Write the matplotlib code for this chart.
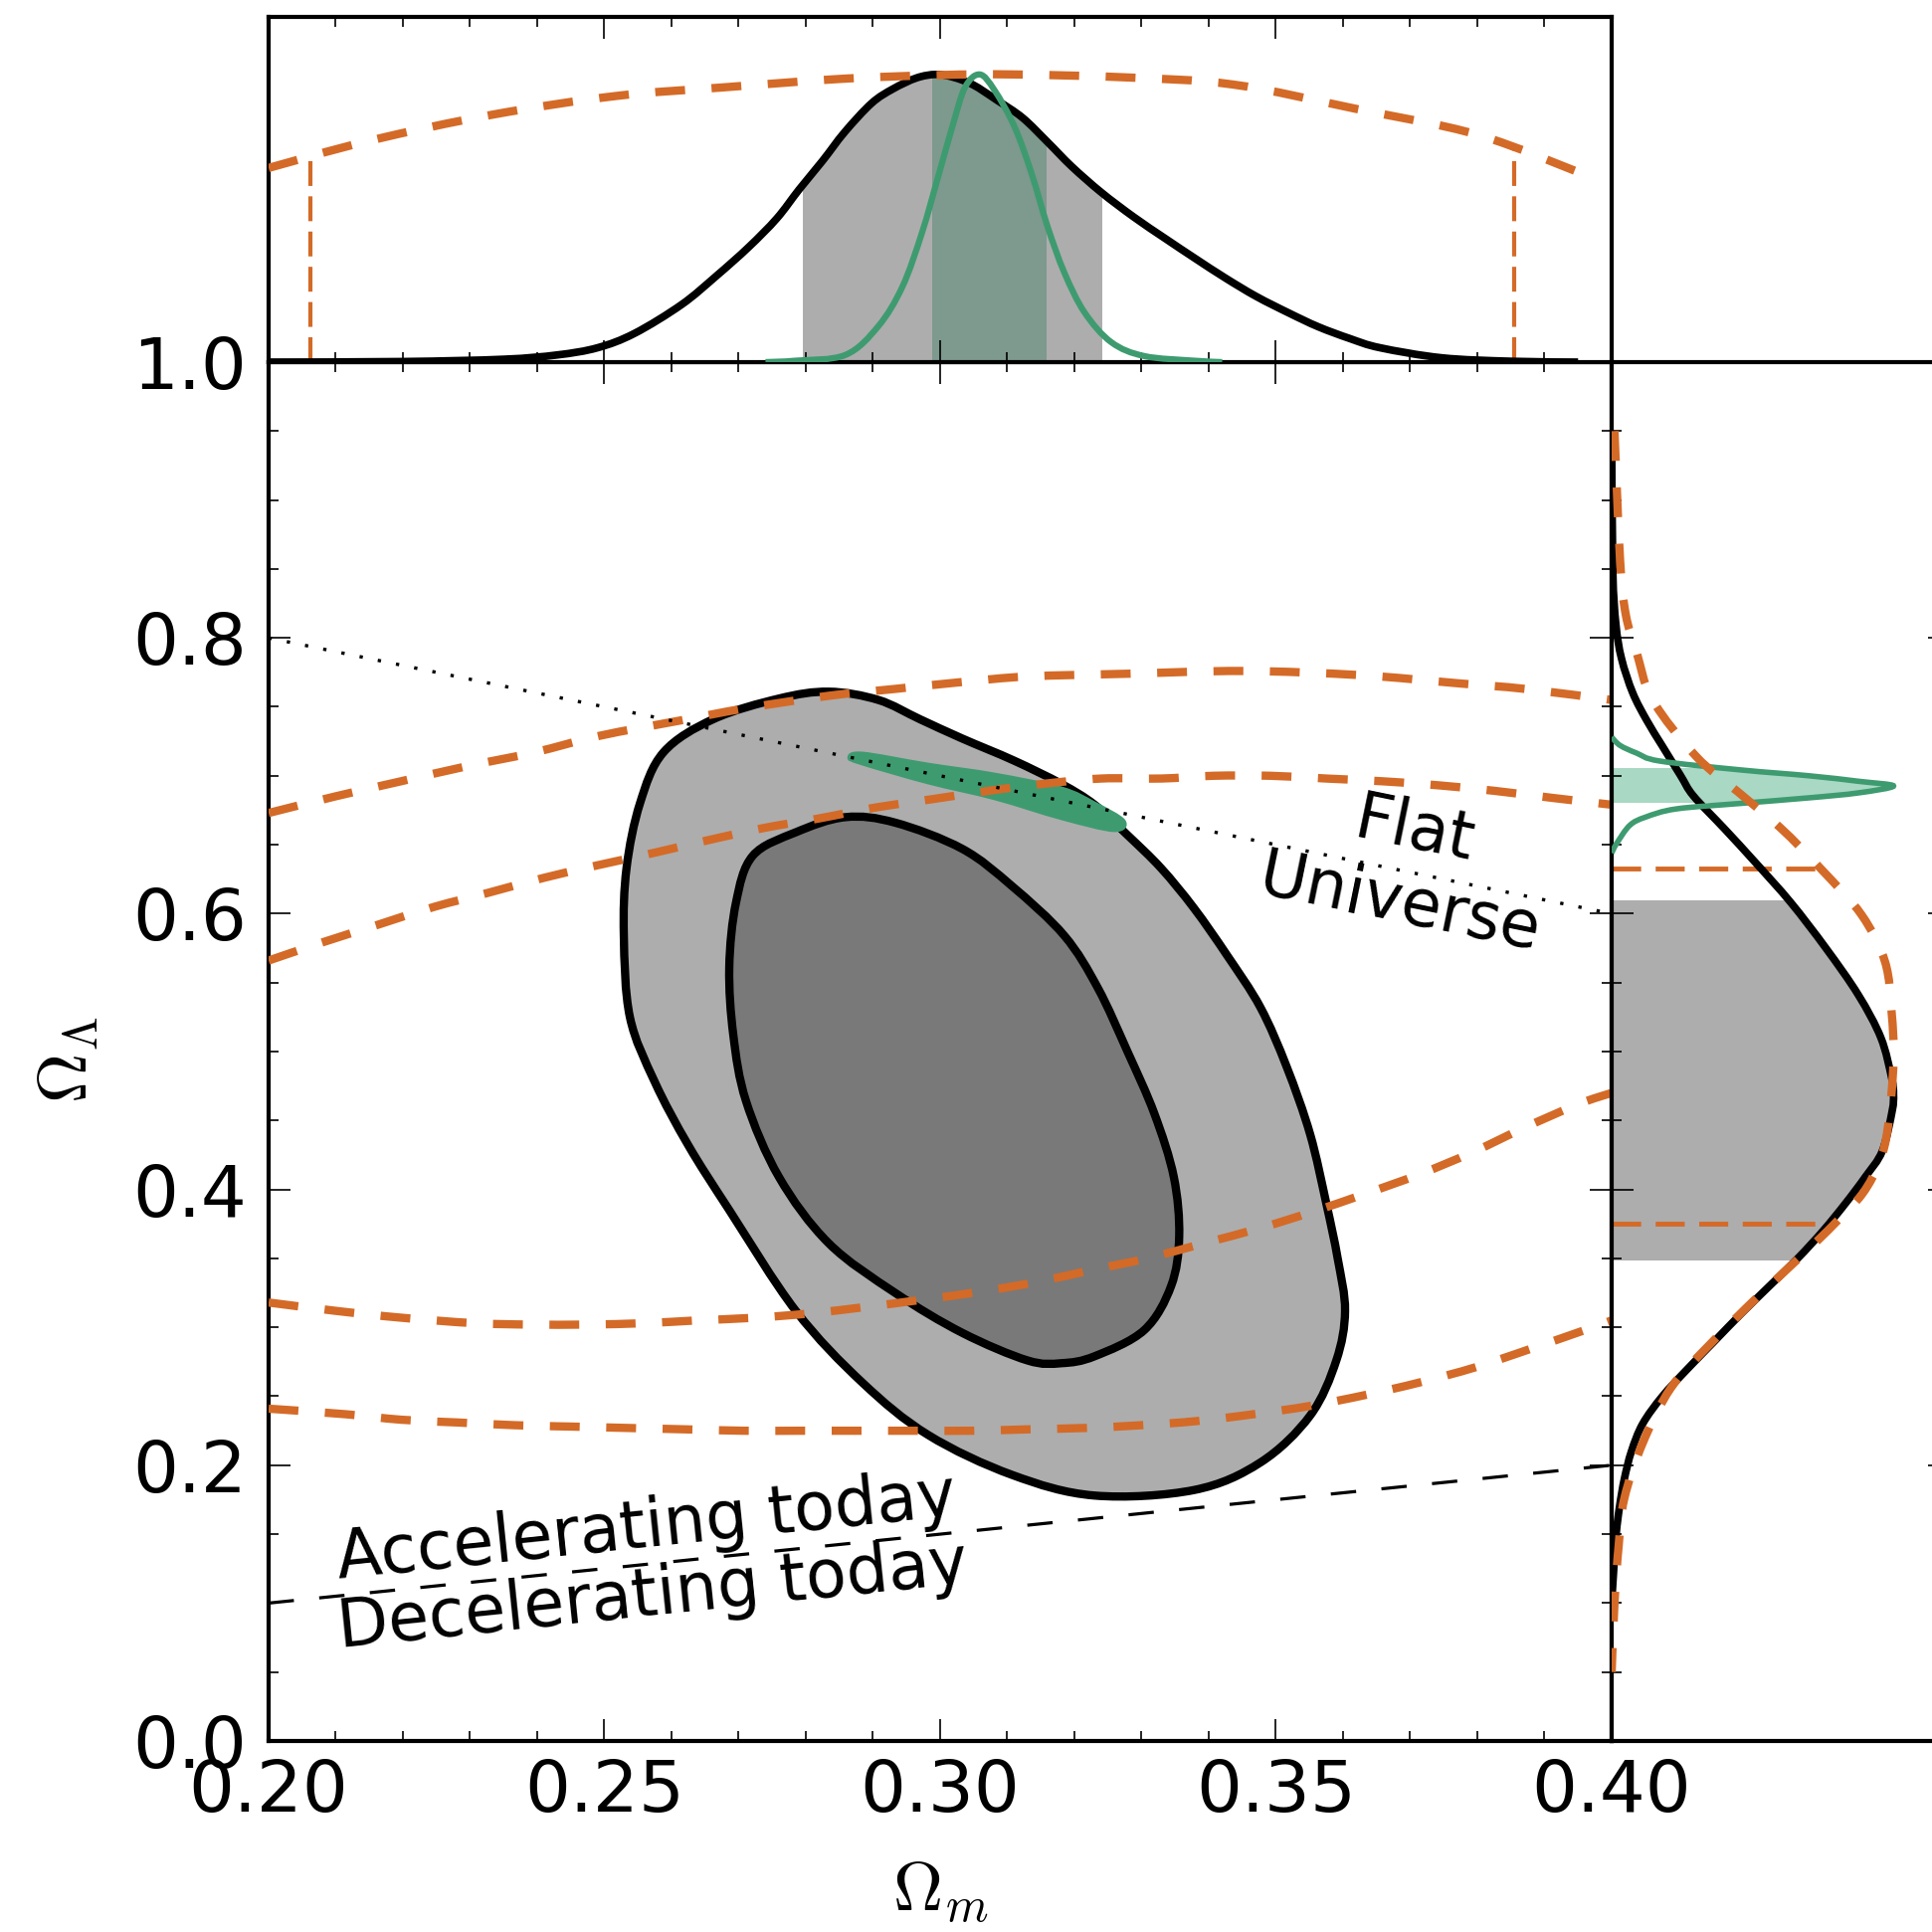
import numpy as np
import matplotlib
matplotlib.use('Agg')
from matplotlib import pyplot as plt
from matplotlib.patches import PathPatch
from matplotlib.path import Path
from matplotlib.ticker import MultipleLocator

plt.rcParams['mathtext.fontset'] = 'cm'

# 2D contours (Omega_m, Omega_Lambda)
outer_om = [0.2834, 0.2908, 0.2970, 0.3033, 0.3110, 0.3181, 0.3230, 0.3279, 0.3329, 0.3378, 0.3427, 0.3477,
            0.3516, 0.3551, 0.3575, 0.3592, 0.3603, 0.3590, 0.3551, 0.3477, 0.3378, 0.3230, 0.3107,
            0.2982, 0.2884, 0.2785, 0.2686, 0.2625, 0.2575, 0.2538, 0.2529, 0.2533, 0.2553, 0.2588, 0.2662, 0.2760]
outer_ol = [0.761, 0.755, 0.741, 0.727, 0.711, 0.694, 0.679, 0.657, 0.633, 0.604, 0.570, 0.532,
            0.489, 0.440, 0.390, 0.350, 0.312, 0.276, 0.236, 0.202, 0.182, 0.178, 0.193,
            0.222, 0.260, 0.312, 0.385, 0.432, 0.478, 0.525, 0.584, 0.633, 0.680, 0.717, 0.741, 0.756]

inner_om = [0.2859, 0.2933, 0.3033, 0.3107, 0.3185, 0.3235, 0.3279, 0.3319, 0.3348, 0.3356, 0.3344, 0.3304,
            0.3230, 0.3181, 0.3130, 0.3033, 0.2933, 0.2834, 0.2760, 0.2711, 0.2692, 0.2686, 0.2696, 0.2721, 0.2785]
inner_ol = [0.670, 0.666, 0.647, 0.620, 0.584, 0.546, 0.500, 0.455, 0.409, 0.366, 0.330, 0.298,
            0.279, 0.274, 0.276, 0.296, 0.325, 0.361, 0.409, 0.464, 0.512, 0.561, 0.608, 0.642, 0.659]

green_om = [0.2864, 0.2884, 0.2982, 0.3081, 0.3181, 0.3230, 0.3274, 0.3259, 0.3181, 0.3081, 0.2982, 0.2884]
green_ol = [0.713, 0.7165, 0.7085, 0.7013, 0.6912, 0.6804, 0.6674, 0.6602, 0.6688, 0.6833, 0.6948, 0.7085]

# orange dashed contours, open curves that cross the frame
orA_om = [0.200, 0.2099, 0.2197, 0.2296, 0.2396, 0.2493, 0.2612, 0.2711, 0.2834, 0.2933, 0.3033, 0.3130,
          0.3279, 0.3452, 0.3625, 0.3773, 0.3871, 0.400]
orA_ol = [0.673, 0.685, 0.696, 0.707, 0.717, 0.729, 0.740, 0.749, 0.758, 0.763, 0.768, 0.772,
          0.774, 0.776, 0.773, 0.767, 0.763, 0.755]
orB_om = [0.200, 0.2079, 0.2163, 0.2247, 0.2326, 0.2410, 0.2489, 0.2573, 0.2652, 0.2736, 0.2819, 0.2904,
          0.2988, 0.3071, 0.3151, 0.3240, 0.3329, 0.3407, 0.3492, 0.3575, 0.3659, 0.3744, 0.3827, 0.3911, 0.400]
orB_ol = [0.566, 0.579, 0.592, 0.605, 0.615, 0.626, 0.635, 0.644, 0.653, 0.662, 0.669, 0.677,
          0.683, 0.689, 0.694, 0.698, 0.698, 0.700, 0.700, 0.698, 0.696, 0.693, 0.689, 0.684, 0.679]
orC_om = [0.200, 0.2099, 0.2197, 0.2307, 0.2390, 0.2474, 0.2559, 0.2637, 0.2726, 0.2804, 0.2893, 0.2973,
          0.3062, 0.3145, 0.3230, 0.3308, 0.3393, 0.3477, 0.3556, 0.3634, 0.3714, 0.3793, 0.3871, 0.3951, 0.400]
orC_ol = [0.318, 0.312, 0.307, 0.303, 0.302, 0.302, 0.303, 0.305, 0.307, 0.310, 0.315, 0.320,
          0.326, 0.333, 0.342, 0.350, 0.361, 0.372, 0.384, 0.397, 0.411, 0.427, 0.445, 0.462, 0.470]
orD_om = [0.200, 0.2114, 0.2197, 0.2281, 0.2367, 0.2452, 0.2536, 0.2622, 0.2707, 0.2790, 0.2874, 0.2959,
          0.3047, 0.3130, 0.3215, 0.3299, 0.3382, 0.3467, 0.3551, 0.3634, 0.3714, 0.3797, 0.3877, 0.3960, 0.400]
orD_ol = [0.241, 0.237, 0.233, 0.231, 0.229, 0.228, 0.227, 0.226, 0.225, 0.225, 0.225, 0.225,
          0.225, 0.226, 0.227, 0.229, 0.232, 0.237, 0.243, 0.251, 0.260, 0.271, 0.284, 0.298, 0.305]

# reference lines
flat_om = [0.2, 0.4]
flat_ol = [0.8, 0.6]
accel_om = [0.2, 0.4]
accel_ol = [0.1, 0.2]

# 1D marginals of Omega_m (peak = 1)
top_black_om = [0.200, 0.220, 0.235, 0.243, 0.249, 0.2545, 0.2615, 0.2667, 0.2715, 0.2757, 0.2790, 0.2825,
                0.2858, 0.2898, 0.2930, 0.2965, 0.2994, 0.3020, 0.3049, 0.3085, 0.3123, 0.3160, 0.3196, 0.3240,
                0.3288, 0.3335, 0.3380, 0.3425, 0.3471, 0.3520, 0.3563, 0.3610, 0.3655, 0.3747, 0.385, 0.395]
top_black_p = [0.0, 0.002, 0.01, 0.025, 0.05, 0.10, 0.20, 0.30, 0.40, 0.50, 0.60, 0.70,
               0.80, 0.90, 0.95, 0.988, 1.0, 0.99, 0.964, 0.91, 0.849, 0.765, 0.68, 0.59,
               0.505, 0.43, 0.36, 0.292, 0.228, 0.17, 0.123, 0.082, 0.05, 0.015, 0.003, 0.0]
top_green_om = [0.274, 0.2785, 0.2859, 0.2908, 0.2944, 0.2973, 0.2997, 0.3018, 0.3037, 0.3059, 0.3081, 0.3111,
                0.3136, 0.3160, 0.3185, 0.3215, 0.3255, 0.3304, 0.3378, 0.342]
top_green_p = [0.0, 0.005, 0.025, 0.125, 0.263, 0.45, 0.644, 0.817, 0.955, 1.0, 0.945, 0.817,
               0.657, 0.471, 0.311, 0.173, 0.069, 0.021, 0.005, 0.0]
top_orange_om = [0.200, 0.2151, 0.2333, 0.2517, 0.2677, 0.2855, 0.300, 0.3107, 0.3274, 0.3436, 0.3620, 0.3801, 0.3967]
top_orange_p = [0.675, 0.77, 0.86, 0.925, 0.955, 0.985, 0.998, 1.0, 0.99, 0.965, 0.88, 0.79, 0.645]

# 1D marginals of Omega_Lambda (peak = 1)
right_black_ol = [0.95, 0.85, 0.81, 0.785, 0.76, 0.74, 0.7215, 0.70, 0.6854, 0.6616, 0.6371, 0.6082, 0.575,
                  0.5411, 0.5101, 0.4812, 0.469, 0.4567, 0.4278, 0.4091, 0.39, 0.37, 0.35, 0.33, 0.31, 0.29,
                  0.27, 0.25, 0.23, 0.21, 0.19, 0.17, 0.15, 0.12, 0.10]
right_black_p = [0.0, 0.004, 0.015, 0.035, 0.075, 0.125, 0.18, 0.245, 0.29, 0.40, 0.51, 0.635, 0.76,
                 0.875, 0.955, 0.993, 1.0, 0.995, 0.96, 0.90, 0.83, 0.75, 0.66, 0.56, 0.46, 0.365,
                 0.27, 0.18, 0.11, 0.07, 0.045, 0.028, 0.016, 0.006, 0.0]
right_green_ol = [0.728, 0.722, 0.7165, 0.7107, 0.7042, 0.700, 0.696, 0.6926, 0.6876, 0.684, 0.680, 0.676,
                  0.670, 0.664, 0.651, 0.644]
right_green_p = [0.0, 0.03, 0.088, 0.17, 0.46, 0.70, 0.876, 1.0, 0.876, 0.70, 0.46, 0.23,
                 0.12, 0.064, 0.018, 0.0]
right_orange_ol = [0.95, 0.856, 0.817, 0.79, 0.755, 0.714, 0.688, 0.662, 0.633, 0.599, 0.565, 0.529, 0.493,
                   0.445, 0.42, 0.397, 0.375, 0.356, 0.3225, 0.289, 0.256, 0.216, 0.176, 0.142, 0.10, 0.05]
right_orange_p = [0.01, 0.03, 0.05, 0.088, 0.145, 0.30, 0.45, 0.60, 0.74, 0.887, 0.97, 0.993, 1.0,
                  0.98, 0.95, 0.89, 0.79, 0.695, 0.52, 0.355, 0.21, 0.11, 0.045, 0.025, 0.01, 0.0]

# credible intervals
black_om_band = [0.2796, 0.3241]
green_om_band = [0.2988, 0.3159]
orange_om_lines = [0.2062, 0.3855]
black_ol_band = [0.3485, 0.6097]
green_ol_band = [0.6804, 0.7056]
orange_ol_lines = [0.375, 0.633]

om_ticks = [0.20, 0.25, 0.30, 0.35, 0.40]
ol_ticks = [0.0, 0.2, 0.4, 0.6, 0.8, 1.0]

orange = '#d46a27'
green = '#3e9b70'
light_gray = '#adadad'
dark_gray = '#797979'
dash = (0, (3.6, 3.2))


def smooth(xs, ys, closed=False):
    # Catmull-Rom curve through the read points, as bezier path vertices
    pts = np.column_stack([xs, ys])
    n = len(pts)
    if closed:
        ext = np.vstack([pts[-1], pts, pts[0], pts[1]])
    else:
        ext = np.vstack([pts[0], pts, pts[-1]])
    verts = [pts[0]]
    codes = [Path.MOVETO]
    for i in range(n if closed else n - 1):
        p0, p1, p2, p3 = ext[i], ext[i + 1], ext[i + 2], ext[i + 3]
        verts += [p1 + (p2 - p0) / 6, p2 - (p3 - p1) / 6, p2]
        codes += [Path.CURVE4] * 3
    if closed:
        verts.append(pts[0])
        codes.append(Path.CLOSEPOLY)
    return verts, codes


def curve_patch(xs, ys, closed=False, **kw):
    v, c = smooth(xs, ys, closed)
    return PathPatch(Path(v, c), **kw)


def area_path(xs, ys, base_pts):
    # region between a curve and the axis it sits on
    v, c = smooth(xs, ys)
    v = v + base_pts + [base_pts[-1]]
    c = c + [Path.LINETO] * len(base_pts) + [Path.CLOSEPOLY]
    return Path(v, c)


fig = plt.figure(figsize=(19.42, 19.42), dpi=100)
ax = fig.add_axes([0.13903, 0.09887, 0.69516, 0.71370])
ax_top = fig.add_axes([0.13903, 0.81257, 0.69516, 0.17868])
ax_right = fig.add_axes([0.83419, 0.09887, 0.17508, 0.71370])

# main panel
ax.add_patch(curve_patch(outer_om, outer_ol, True, facecolor=light_gray, edgecolor='black', lw=6, zorder=2))
ax.add_patch(curve_patch(inner_om, inner_ol, True, facecolor=dark_gray, edgecolor='black', lw=6, zorder=2))
ax.add_patch(curve_patch(green_om, green_ol, True, facecolor=green, edgecolor=green, lw=2, zorder=3))
for om, ol in [(orA_om, orA_ol), (orB_om, orB_ol), (orC_om, orC_ol), (orD_om, orD_ol)]:
    ax.add_patch(curve_patch(om, ol, fill=False, edgecolor=orange, lw=6, linestyle=dash, zorder=4))
ax.plot(flat_om, flat_ol, color='black', lw=2.4, linestyle=(0, (1, 4.6)), zorder=5)
ax.plot(accel_om, accel_ol, color='black', lw=2.3, linestyle=(0, (8, 8)), zorder=5)

ax.text(0.3695, 0.633, 'Flat\nUniverse', fontsize=47, rotation=-11.6, rotation_mode='anchor',
        ha='center', va='center', multialignment='center', linespacing=1.22, zorder=6)
ax.text(0.2563, 0.1544, 'Accelerating today', fontsize=48, rotation=5.9, rotation_mode='anchor',
        ha='center', va='center', zorder=6)
ax.text(0.2572, 0.1053, 'Decelerating today', fontsize=48, rotation=5.9, rotation_mode='anchor',
        ha='center', va='center', zorder=6)

ax.set_xlim(0.2, 0.4)
ax.set_ylim(0.0, 1.0)
ax.set_xticks(om_ticks)
ax.set_xticklabels(['%.2f' % t for t in om_ticks])
ax.set_yticks(ol_ticks)
ax.set_yticklabels(['%.1f' % t for t in ol_ticks])
ax.xaxis.set_minor_locator(MultipleLocator(0.01))
ax.yaxis.set_minor_locator(MultipleLocator(0.05))
ax.tick_params(which='both', direction='in', top=True, right=True, width=1.2)
ax.tick_params(which='major', length=16, labelsize=52)
ax.tick_params(which='minor', length=7)
ax.tick_params(axis='x', pad=12)
ax.tick_params(axis='y', pad=16)
ax.set_xlabel(r'$\Omega_m$', fontsize=50)
ax.xaxis.set_label_coords(0.5, -0.086)
ax.set_ylabel(r'$\Omega_\Lambda$', fontsize=50)
ax.yaxis.set_label_coords(-0.125, 0.494)

# top panel: Omega_m marginals
black_top = area_path(top_black_om, top_black_p, [(top_black_om[-1], 0), (top_black_om[0], 0)])
span = ax_top.axvspan(black_om_band[0], black_om_band[1], color=light_gray, lw=0, zorder=1)
span.set_clip_path(black_top, ax_top.transData)
span = ax_top.axvspan(green_om_band[0], green_om_band[1], color='#7e998e', lw=0, zorder=1.5)
span.set_clip_path(black_top, ax_top.transData)
orange_top = area_path(top_orange_om, top_orange_p, [(top_orange_om[-1], 0), (top_orange_om[0], 0)])
for x in orange_om_lines:
    ln = ax_top.axvline(x, color=orange, lw=3, linestyle=(0, (6, 2.5)), zorder=2)
    ln.set_clip_path(orange_top, ax_top.transData)
ax_top.add_patch(curve_patch(top_black_om, top_black_p, fill=False, edgecolor='black', lw=5.5, zorder=3))
ax_top.add_patch(curve_patch(top_green_om, top_green_p, fill=False, edgecolor=green, lw=4.5, zorder=4))
ax_top.add_patch(curve_patch(top_orange_om, top_orange_p, fill=False, edgecolor=orange, lw=6,
                             linestyle=dash, zorder=5))
ax_top.set_xlim(0.2, 0.4)
ax_top.set_ylim(0, 1.2)
ax_top.set_xticks(om_ticks)
ax_top.xaxis.set_minor_locator(MultipleLocator(0.01))
ax_top.set_yticks([])
ax_top.tick_params(which='both', direction='in', top=True, bottom=True, labelbottom=False, width=1.2)
ax_top.tick_params(which='major', length=16)
ax_top.tick_params(which='minor', length=7)

# right panel: Omega_Lambda marginals
black_right = area_path(right_black_p, right_black_ol, [(0, right_black_ol[-1]), (0, right_black_ol[0])])
span = ax_right.axhspan(black_ol_band[0], black_ol_band[1], color=light_gray, lw=0, zorder=1)
span.set_clip_path(black_right, ax_right.transData)
green_right = area_path(right_green_p, right_green_ol, [(0, right_green_ol[-1]), (0, right_green_ol[0])])
span = ax_right.axhspan(green_ol_band[0], green_ol_band[1], color='#a9d8c5', lw=0, zorder=1)
span.set_clip_path(green_right, ax_right.transData)
orange_right = area_path(right_orange_p, right_orange_ol, [(0, right_orange_ol[-1]), (0, right_orange_ol[0])])
for y in orange_ol_lines:
    ln = ax_right.axhline(y, color=orange, lw=3.5, linestyle=(0, (6, 3)), zorder=2)
    ln.set_clip_path(orange_right, ax_right.transData)
ax_right.add_patch(curve_patch(right_black_p, right_black_ol, fill=False, edgecolor='black', lw=5.5, zorder=3))
ax_right.add_patch(curve_patch(right_green_p, right_green_ol, fill=False, edgecolor=green, lw=4, zorder=4))
ax_right.add_patch(curve_patch(right_orange_p, right_orange_ol, fill=False, edgecolor=orange, lw=6,
                               linestyle=dash, zorder=5))
ax_right.set_ylim(0, 1)
ax_right.set_xlim(0, 1.2)
ax_right.set_yticks(ol_ticks)
ax_right.yaxis.set_minor_locator(MultipleLocator(0.05))
ax_right.set_xticks([])
ax_right.tick_params(which='both', direction='in', left=True, right=True, labelleft=False, width=1.2)
ax_right.tick_params(which='major', length=16)
ax_right.tick_params(which='minor', length=7)

for a in [ax, ax_top, ax_right]:
    for s in a.spines.values():
        s.set_linewidth(3)

fig.savefig('out.png', dpi=100)
